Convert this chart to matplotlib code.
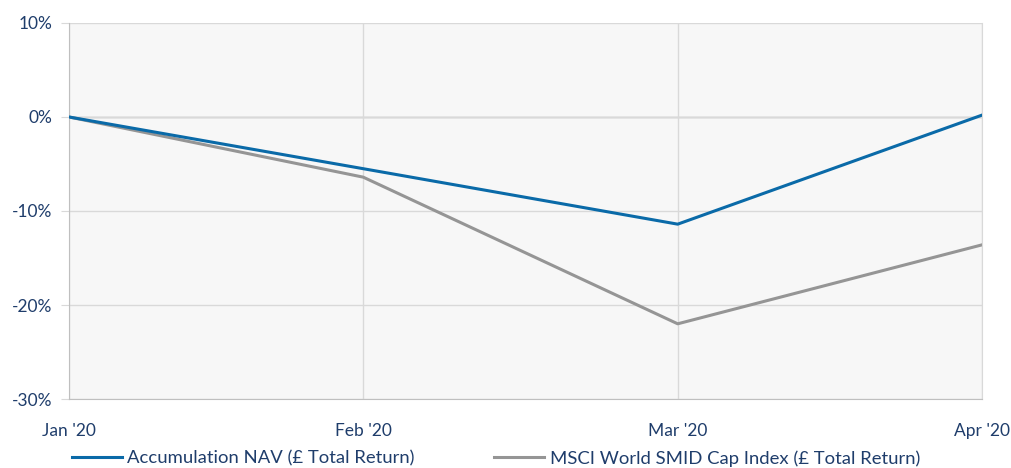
import matplotlib
matplotlib.use("Agg")
import matplotlib.pyplot as plt
import matplotlib.dates as mdates
from matplotlib.ticker import FuncFormatter
import datetime as dt

# month-end valuation dates
dates = [dt.date(2020, 1, 31), dt.date(2020, 2, 29), dt.date(2020, 3, 31), dt.date(2020, 4, 30)]
months = ["Jan '20", "Feb '20", "Mar '20", "Apr '20"]
nav = [0.0, -5.5, -11.4, 0.2]
msci = [0.0, -6.4, -22.0, -13.6]
yticks = [10, 0, -10, -20, -30]

blue = "#0a6aa8"
grey = "#959595"
text_col = "#1f3d6b"

plt.rcParams["font.family"] = ["Lato", "DejaVu Sans"]

fig = plt.figure(figsize=(10.12, 4.68), dpi=100)
ax = fig.add_axes([0.0682, 0.1474, 0.9022, 0.8035])
ax.set_facecolor("#f7f7f7")

l1, = ax.plot(dates, nav, color=blue, lw=2.2, label="Accumulation NAV (£ Total Return)", zorder=3)
l2, = ax.plot(dates, msci, color=grey, lw=2.2, label="MSCI World SMID Cap Index (£ Total Return)", zorder=2)

ax.set_xlim(dates[0], dates[-1])
ax.set_ylim(-30, 10)
ax.set_xticks(dates)
ax.set_xticklabels(months)
ax.set_yticks(yticks)
ax.yaxis.set_major_formatter(FuncFormatter(lambda v, p: f"{v:.0f}%"))

ax.grid(True, color="#d9d9d9", lw=1, zorder=0)
ax.axhline(0, color="#a6a6a6", lw=1, zorder=1)
ax.spines["top"].set_visible(False)
ax.spines["right"].set_color("#d9d9d9")
for s in ["left", "bottom"]:
    ax.spines[s].set_color("#bfbfbf")

ax.tick_params(axis="y", length=6, color="#d9d9d9", labelsize=12.5, labelcolor=text_col, pad=6)
ax.tick_params(axis="x", length=0, labelsize=12.5, labelcolor=text_col, pad=17)

fig.legend(handles=[l1, l2], loc="center left", bbox_to_anchor=(0.071, 0.02), ncol=2,
           frameon=False, fontsize=13.3, labelcolor=text_col, handlelength=2.7,
           handletextpad=0.3, columnspacing=4.3, borderpad=0, borderaxespad=0)

fig.savefig("out.png", dpi=100)
